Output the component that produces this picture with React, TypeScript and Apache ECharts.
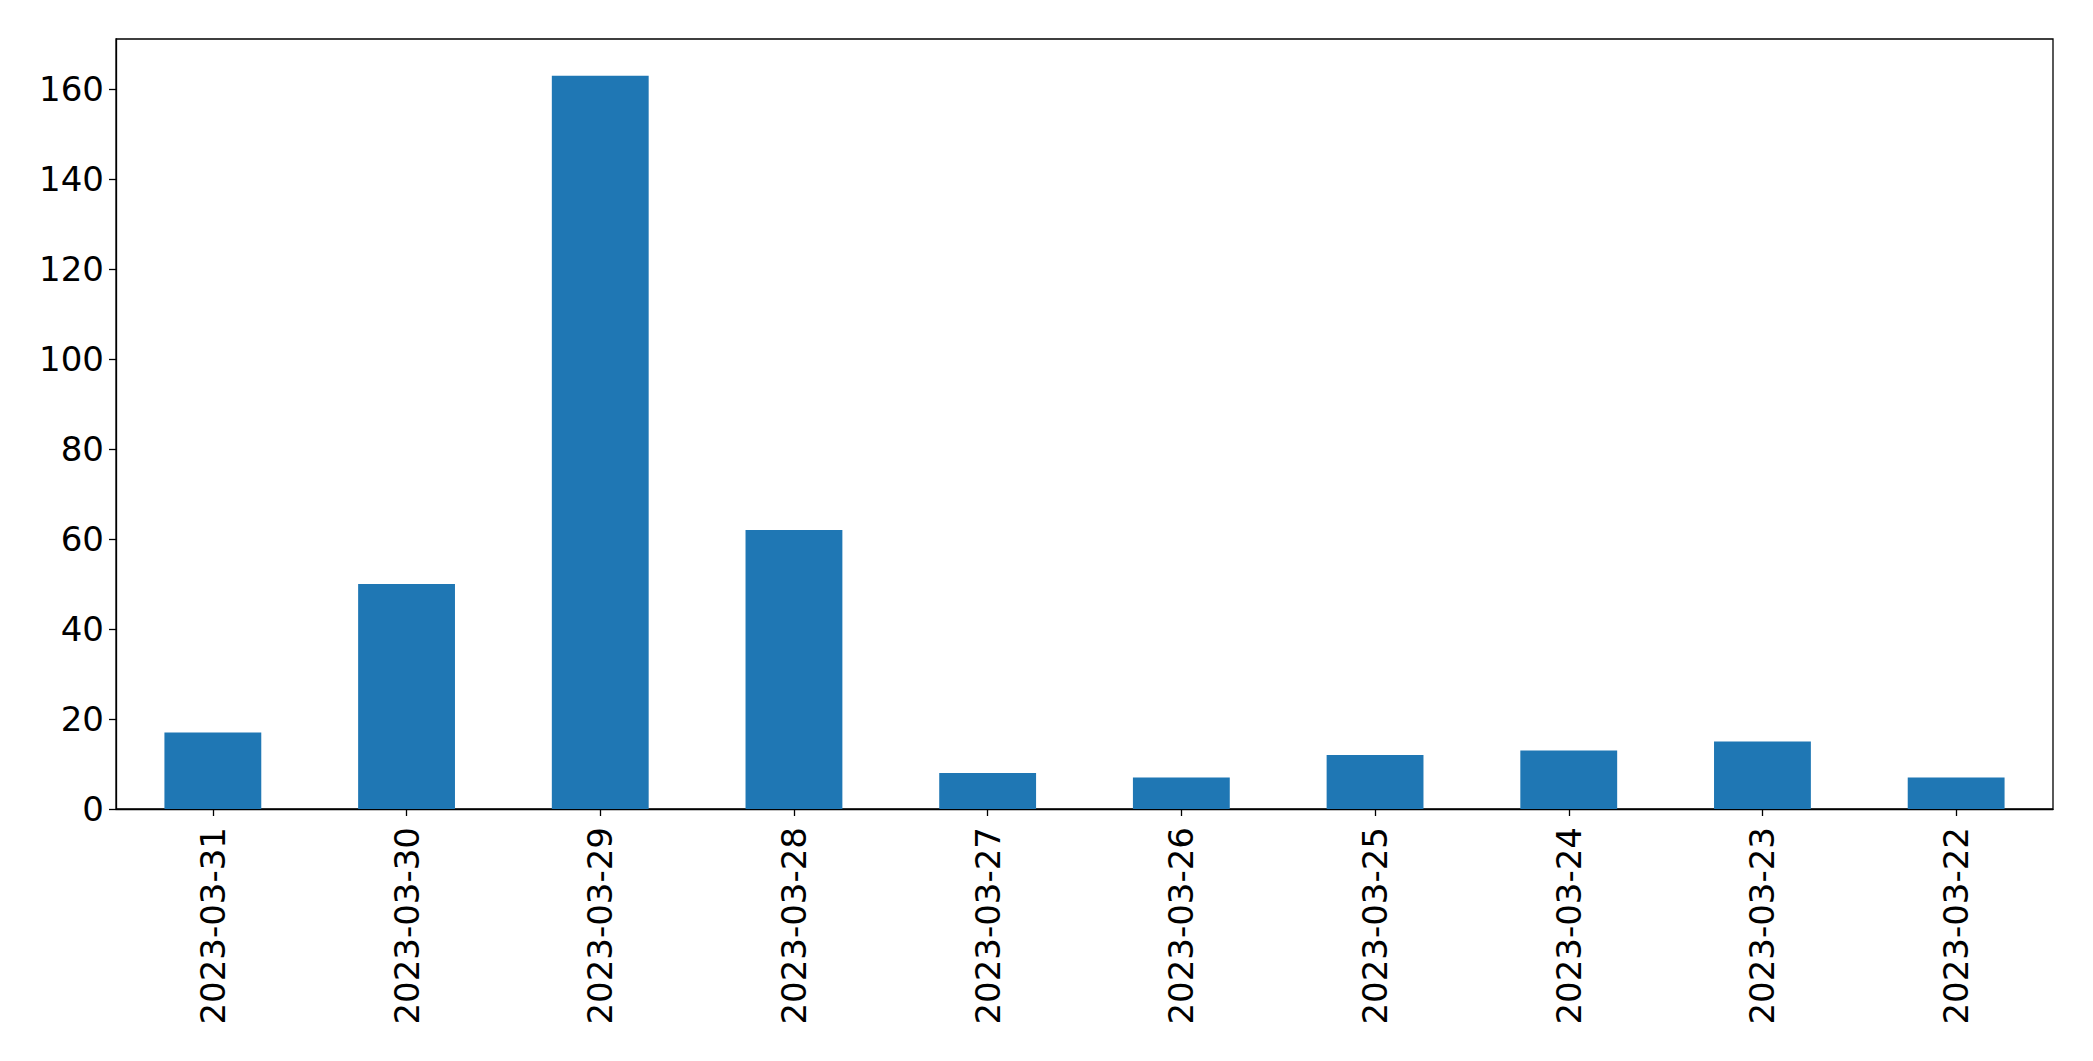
import React, { useEffect, useRef } from "react";
import * as echarts from "echarts";

const categories = [
  "2023-03-31",
  "2023-03-30",
  "2023-03-29",
  "2023-03-28",
  "2023-03-27",
  "2023-03-26",
  "2023-03-25",
  "2023-03-24",
  "2023-03-23",
  "2023-03-22",
];
const values = [17, 50, 163, 62, 8, 7, 12, 13, 15, 7];
const yMax = 171.15;
const yInterval = 20;

export default function App() {
  const ref = useRef<HTMLDivElement>(null);
  useEffect(() => {
    document.body.style.margin = "0";
    const chart = echarts.init(ref.current!, null, { renderer: "svg" });
    const font = "DejaVu Sans";
    chart.setOption({
      animation: false,
      backgroundColor: "#ffffff",
      grid: {
        left: 116,
        right: 40,
        top: 39,
        bottom: 252,
        show: true,
        borderColor: "#000000",
        borderWidth: 1.3,
        containLabel: false,
      },
      xAxis: {
        type: "category",
        data: categories,
        boundaryGap: true,
        axisLine: { show: true, lineStyle: { color: "#000", width: 1.3 } },
        axisTick: { show: true, alignWithLabel: true, length: 7, lineStyle: { color: "#000", width: 1.3 } },
        axisLabel: {
          rotate: 90,
          margin: 18,
          fontFamily: font,
          fontSize: 34,
          color: "#000",
          interval: 0,
        },
        splitLine: { show: false },
      },
      yAxis: {
        type: "value",
        min: 0,
        max: yMax,
        interval: yInterval,
        axisLine: { show: true, lineStyle: { color: "#000", width: 1.3 } },
        axisTick: { show: true, length: 7, lineStyle: { color: "#000", width: 1.3 } },
        axisLabel: {
          margin: 12,
          fontFamily: font,
          fontSize: 34,
          color: "#000",
          showMaxLabel: false,
          formatter: (v: number) => (v % yInterval === 0 ? String(v) : ""),
        },
        splitLine: { show: false },
      },
      series: [
        {
          type: "bar",
          data: values,
          barWidth: "50%",
          itemStyle: { color: "#1f77b4" },
        },
      ],
    });
    return () => chart.dispose();
  }, []);
  return <div ref={ref} style={{ width: 2093, height: 1061 }} />;
}
